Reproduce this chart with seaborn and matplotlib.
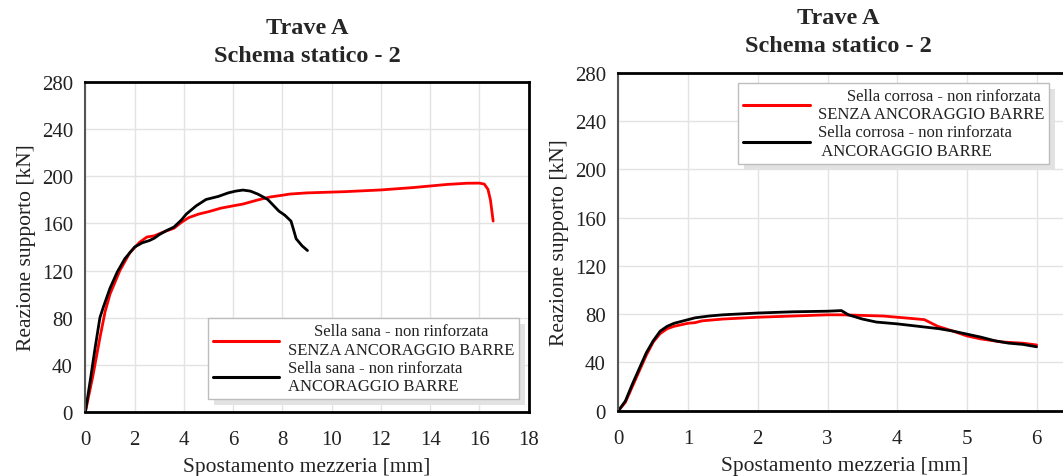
import numpy as np
import pandas as pd
import seaborn as sns
import matplotlib.pyplot as plt
from matplotlib.patches import Rectangle

sns.set_theme(style="white")
plt.rcParams["font.family"] = ["Liberation Serif", "DejaVu Serif"]

# --- Trave A, sella sana (left panel) ---
sana_senza_x = [0, 0.3, 0.6, 0.8, 1.0, 1.4, 1.8, 2.2, 2.5, 2.8, 3.2, 3.6, 3.9, 4.2, 4.6,
                5.0, 5.5, 6.0, 6.4, 7.0, 7.5, 8.0, 8.3, 9.0, 10.5, 12.0, 13.3, 14.7,
                15.5, 16.0, 16.2, 16.35, 16.45, 16.56]
sana_senza_y = [0, 30, 64, 85, 100, 120, 135, 144, 148.5, 149.5, 153, 156, 161, 165, 168,
                170, 173, 175, 176.5, 180, 182.5, 184, 185, 186, 187, 188.5, 190.5, 193.2,
                194.2, 194.3, 193.5, 189, 180, 162]

sana_ancor_x = [0, 0.2, 0.4, 0.59, 0.73, 1.0, 1.3, 1.6, 2.0, 2.3, 2.6, 2.8, 3.0, 3.3,
                3.6, 3.9, 4.1, 4.5, 4.9, 5.4, 5.8, 6.1, 6.4, 6.7, 7.0, 7.4, 7.86, 8.1,
                8.35, 8.45, 8.56, 8.8, 9.02]
sana_ancor_y = [0, 27, 55, 80, 89, 105, 119, 130, 140, 143.5, 145.5, 147.5, 150.5, 154,
                157, 163, 168, 175, 180.4, 183, 186, 187.5, 188.4, 187.5, 185, 180.5, 170.5,
                167, 162, 155, 147, 141, 137]

# --- Trave A, sella corrosa (right panel) ---
corr_senza_x = [0, 0.1, 0.2, 0.3, 0.4, 0.5, 0.6, 0.7, 0.8, 1.0, 1.1, 1.2, 1.5, 2.0, 2.5,
                3.0, 3.2, 3.5, 3.8, 4.0, 4.2, 4.39, 4.58, 4.8, 5.0, 5.2, 5.5, 5.8, 6.0]
corr_senza_y = [0, 7, 20, 33, 46, 57, 64, 68, 70, 72.5, 73, 74.5, 76, 77.5, 78.5,
                79.5, 79.5, 79, 78.5, 77.5, 76.5, 75.5, 70, 66, 62, 59.5, 57, 56, 54.5]

corr_ancor_x = [0, 0.1, 0.2, 0.3, 0.4, 0.5, 0.6, 0.7, 0.8, 1.0, 1.1, 1.3, 1.5, 2.0, 2.5,
                3.0, 3.2, 3.3, 3.5, 3.7, 4.0, 4.3, 4.6, 4.8, 5.0, 5.2, 5.4, 5.6, 5.8, 6.0]
corr_ancor_y = [0, 8, 22, 35, 48, 58, 66, 70, 72.5, 75.5, 77, 78.5, 79.5, 81, 82,
                82.5, 83, 79.5, 76, 73.5, 72, 70, 68, 66, 63.5, 61, 58, 56, 55, 53]

title_text = "Trave A\nSchema statico - 2"
x_label = "Spostamento mezzeria [mm]"
y_label = "Reazione supporto [kN]"

left_labels = ["Sella sana - non rinforzata\nSENZA ANCORAGGIO BARRE",
               "Sella sana - non rinforzata\nANCORAGGIO BARRE"]
right_labels = ["       Sella corrosa - non rinforzata\nSENZA ANCORAGGIO BARRE",
                "Sella corrosa - non rinforzata\n ANCORAGGIO BARRE"]

left_xticks = np.arange(0, 19, 2)
right_xticks = np.arange(0, 7, 1)
yticks = np.arange(0, 281, 40)

W, H = 1063, 477
fig = plt.figure(figsize=(W / 100, H / 100), dpi=100)


def px_axes(x0, x1, y_top, y_bot):
    return fig.add_axes([x0 / W, 1 - y_bot / H, (x1 - x0) / W, (y_bot - y_top) / H])


ax1 = px_axes(85.4, 528.6, 83.3, 412.7)
ax2 = px_axes(618.4, 618.4 + 6.5 * 69.7, 74.0, 411.7)


def draw_panel(ax, xs, ys, labels, xlim, xticks, title_x, title_pad):
    for x, y, c in zip(xs, ys, ["#ff0000", "#000000"]):
        df = pd.DataFrame({"x": x, "y": y})
        sns.lineplot(data=df, x="x", y="y", ax=ax, color=c, lw=2.0,
                     sort=False, estimator=None, label=None)
    ax.set_xlim(*xlim)
    ax.set_ylim(0, 280)
    ax.set_xticks(xticks)
    ax.set_yticks(yticks)
    ax.grid(True, color="#e3e3e3", lw=1.0)
    ax.set_axisbelow(True)
    for side in ["top", "right", "bottom"]:
        ax.spines[side].set_color("#000000")
        ax.spines[side].set_linewidth(2.0)
    ax.spines["left"].set_color("#555555")
    ax.spines["left"].set_linewidth(1.5)
    ax.tick_params(axis="both", direction="out", length=6, width=1.2,
                   color="#666666", labelsize=15, labelcolor="#222222", pad=3)
    ax.tick_params(axis="x", pad=7)
    ax.set_xlabel(x_label, fontsize=15.5, color="#222222", labelpad=6)
    ax.set_ylabel(y_label, fontsize=15.5, color="#222222", labelpad=4)
    ax.set_title(title_text, fontsize=17.5, fontweight="bold", x=title_x,
                 pad=title_pad, linespacing=1.45)
    for line, lab in zip(ax.get_lines(), labels):
        line.set_label(lab)


draw_panel(ax1, [sana_senza_x, sana_ancor_x], [sana_senza_y, sana_ancor_y],
           left_labels, (0, 18), left_xticks, 0.5, 15)
draw_panel(ax2, [corr_senza_x, corr_ancor_x], [corr_senza_y, corr_ancor_y],
           right_labels, (0, 6.5), right_xticks, 0.486, 16)


def framed_legend(ax, loc_px, multialign):
    x0, y0 = loc_px
    leg = ax.legend(handles=ax.get_lines()[:2], loc="upper left",
                    bbox_to_anchor=(x0 / W, 1 - y0 / H), bbox_transform=fig.transFigure,
                    fontsize=12, frameon=True, fancybox=False, framealpha=1,
                    edgecolor="#bdbdbd", handlelength=4.0, handletextpad=0.5,
                    borderpad=0.3, labelspacing=0.12, borderaxespad=0)
    leg.get_frame().set_linewidth(1.0)
    for t, ma in zip(leg.get_texts(), multialign):
        t.set_multialignment(ma)
        t.set_linespacing(1.2)
        t.set_color("#222222")
    for h in leg.get_lines():
        h.set_linewidth(2.2)
    return leg


leg1 = framed_legend(ax1, (207.7, 319.3), ["center", "left"])
leg2 = framed_legend(ax2, (738, 84), ["left", "left"])

# soft drop shadows behind the legend boxes
fig.canvas.draw()
for leg in (leg1, leg2):
    bb = leg.get_window_extent()
    shadow = Rectangle((bb.x0 + 6, bb.y0 - 6), bb.width, bb.height,
                       transform=None, facecolor="#e2e2e2", edgecolor="none",
                       zorder=leg.get_zorder() - 0.1)
    leg.axes.add_artist(shadow)
    shadow.set_clip_on(False)

fig.savefig("out.png", dpi=100)
